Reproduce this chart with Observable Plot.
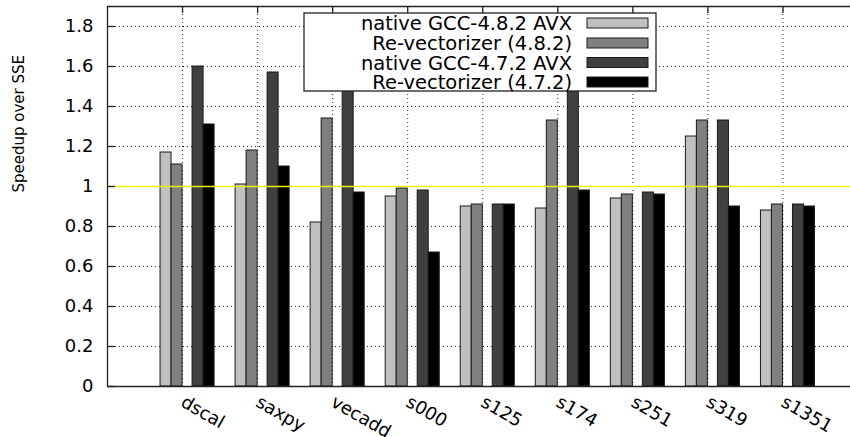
<!DOCTYPE html>
<html>
<head>
<meta charset="utf-8">
<script src="https://cdn.jsdelivr.net/npm/d3@7"></script>
<script src="https://cdn.jsdelivr.net/npm/@observablehq/plot@0.6"></script>
<style>
  html, body { margin: 0; padding: 0; background: #fff; }
  #chart svg { display: block; font-family: "DejaVu Sans", sans-serif; overflow: visible; }
</style>
</head>
<body>
<div id="chart"></div>
<script>
// ---- data ----
const categories = ["dscal", "saxpy", "vecadd", "s000", "s125", "s174", "s251", "s319", "s1351"];
const seriesNames = ["native GCC-4.8.2 AVX", "Re-vectorizer (4.8.2)", "native GCC-4.7.2 AVX", "Re-vectorizer (4.7.2)"];
const gcc482   = [1.17, 1.01, 0.82, 0.95, 0.90, 0.89, 0.94, 1.25, 0.88];
const revec482 = [1.11, 1.18, 1.34, 0.99, 0.91, 1.33, 0.96, 1.33, 0.91];
const gcc472   = [1.60, 1.57, 1.75, 0.98, 0.91, 1.65, 0.97, 1.33, 0.91];
const revec472 = [1.31, 1.10, 0.97, 0.67, 0.91, 0.98, 0.96, 0.90, 0.90];
const yTicks = [0, 0.2, 0.4, 0.6, 0.8, 1, 1.2, 1.4, 1.6, 1.8];
const yLabel = "Speedup over SSE";

// ---- style / layout ----
const seriesValues = [gcc482, revec482, gcc472, revec472];
const colors = ["#c0c0c0", "#808080", "#404040", "#000000"];
const barW = 0.1467;
const offsets = [-0.2933, -0.1467, 0.1333, 0.28];
const catIdx = categories.map((d, i) => i);
const labelRotate = 30;

const rows = [];
seriesValues.forEach((vals, s) => {
  vals.forEach((v, i) => rows.push({cat: categories[i], i, s, name: seriesNames[s], value: v}));
});

const W = 850, H = 437;
const chart = Plot.plot({
  width: W,
  height: H,
  marginLeft: 107,
  marginRight: 0,
  marginTop: 6,
  marginBottom: 51,
  style: {fontFamily: "DejaVu Sans, sans-serif", background: "#fff"},
  x: {type: "linear", domain: [-1, 8.9], axis: null},
  y: {domain: [0, 1.9], axis: null},
  marks: [
    // grid
    Plot.gridY(yTicks.filter(d => d > 0), {stroke: "#000", strokeOpacity: 0.85, strokeDasharray: "1,3", strokeWidth: 1}),
    Plot.gridX(catIdx, {stroke: "#000", strokeOpacity: 0.85, strokeDasharray: "1,3", strokeWidth: 1}),
    // bars
    Plot.rectY(rows, {
      x1: d => d.i + offsets[d.s],
      x2: d => d.i + offsets[d.s] + barW,
      y1: 0,
      y2: "value",
      fill: d => colors[d.s],
      stroke: "#1a1a1a",
      strokeWidth: 1
    }),
    // reference line at 1
    Plot.ruleY([1], {stroke: "#eded00", strokeWidth: 1.4}),
    // frame borders
    Plot.ruleX([-1], {stroke: "#222", strokeWidth: 1.3}),
    Plot.ruleY([0, 1.9], {stroke: "#222", strokeWidth: 1.3}),
    // y axis inward ticks + labels
    Plot.axisY({ticks: yTicks, tickSize: -8, tickPadding: 22, fontSize: 18, stroke: "#222", strokeWidth: 1.3, tickFormat: d => String(d), label: null}),
    // top ticks
    Plot.axisX({anchor: "top", ticks: catIdx, tickSize: -6, tickFormat: () => "", stroke: "#222", strokeWidth: 1.3, label: null}),
    // x labels rotated
    Plot.text(categories, {x: (d, i) => i, y: 0, dy: 14, rotate: labelRotate, textAnchor: "start", fontSize: 18, fill: "#000", ariaLabel: "xlabels"}),
    // y title
    Plot.text([yLabel], {frameAnchor: "left", dx: -88, dy: -4, rotate: -90, fontSize: 15, fill: "#000"})
  ]
});
document.getElementById("chart").appendChild(chart);

const svg = d3.select(chart);
// make sure the category labels carry their rotation
svg.selectAll('g[aria-label="xlabels"] text').each(function () {
  const t = this.getAttribute("transform") || "";
  if (!/rotate/.test(t)) this.setAttribute("transform", (t + ` rotate(${labelRotate})`).trim());
});

// ---- legend (opaque box inside plot) ----
const lg = svg.append("g").attr("font-family", "DejaVu Sans, sans-serif");
const box = {x: 304, y: 13, w: 352, h: 78};
lg.append("rect").attr("x", box.x).attr("y", box.y).attr("width", box.w).attr("height", box.h)
  .attr("fill", "#fff").attr("stroke", "#222").attr("stroke-width", 1.3);
const rowY = [23, 43, 62.5, 82];
seriesNames.forEach((name, s) => {
  lg.append("text").attr("x", 572).attr("y", rowY[s]).attr("dy", "0.36em")
    .attr("text-anchor", "end").attr("font-size", 19.5).attr("fill", "#000").text(name);
  lg.append("rect").attr("x", 587).attr("y", rowY[s] - 5).attr("width", 61).attr("height", 10)
    .attr("fill", colors[s]).attr("stroke", "#1a1a1a").attr("stroke-width", 1);
});
</script>
</body>
</html>
